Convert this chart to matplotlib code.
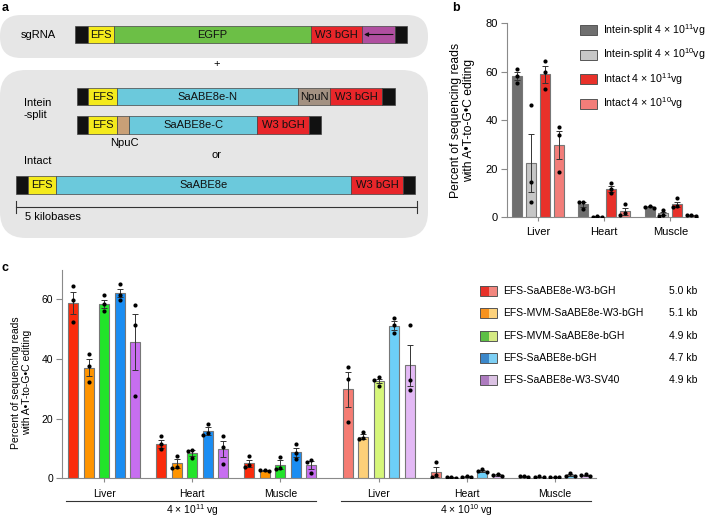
import numpy as np
import matplotlib
matplotlib.use('Agg')
import matplotlib.pyplot as plt
from matplotlib.patches import Rectangle, FancyBboxPatch
from matplotlib.transforms import blended_transform_factory

plt.rcParams['font.family'] = ['Liberation Sans', 'DejaVu Sans']
plt.rcParams['mathtext.fontset'] = 'custom'
plt.rcParams['mathtext.rm'] = 'Liberation Sans'
plt.rcParams['mathtext.it'] = 'Liberation Sans:italic'
plt.rcParams['mathtext.bf'] = 'Liberation Sans:bold'

W, H = 705, 519
FS = 7.5
AX_GRAY = '#8a8a8a'

# ---------------- panel a: vector maps (label, length in kb, colour) ----------------
ITR = '#111111'
EFS_C = '#f4ea1c'
EGFP_C = '#6cbf46'
BGH_C = '#e8262a'
SG_C = '#b04fa0'
CAS_C = '#6bc9dc'
NPUN_C = '#a39182'
NPUC_C = '#c9a077'

sg_start = 0.74
sg_parts = [('', 0.16, ITR), ('EFS', 0.32, EFS_C), ('EGFP', 2.46, EGFP_C),
            ('W3 bGH', 0.64, BGH_C), ('', 0.41, SG_C), ('', 0.14, ITR)]
n_start = 0.76
n_parts = [('', 0.14, ITR), ('EFS', 0.36, EFS_C), ('SaABE8e-N', 2.26, CAS_C),
           ('NpuN', 0.40, NPUN_C), ('W3 bGH', 0.64, BGH_C), ('', 0.16, ITR)]
c_start = 0.76
c_parts = [('', 0.14, ITR), ('EFS', 0.36, EFS_C), ('', 0.15, NPUC_C),
           ('SaABE8e-C', 1.60, CAS_C), ('W3 bGH', 0.64, BGH_C), ('', 0.15, ITR)]
intact_start = 0.0
intact_parts = [('', 0.15, ITR), ('EFS', 0.35, EFS_C), ('SaABE8e', 3.68, CAS_C),
                ('W3 bGH', 0.64, BGH_C), ('', 0.15, ITR)]
scale_kb = 5

# ---------------- panel b ----------------
b_tissues = ['Liver', 'Heart', 'Muscle']
b_labels = ['Intein-split 4 × 10$^{11}$vg', 'Intein-split 4 × 10$^{10}$vg',
            'Intact 4 × 10$^{11}$vg', 'Intact 4 × 10$^{10}$vg']
b_colors = ['#6f6f6f', '#c6c6c6', '#e8312a', '#f27d79']
b_means = [[58.3, 5.2, 4.3],
           [22.3, 0.2, 1.5],
           [59.0, 11.6, 5.3],
           [29.9, 2.4, 0.7]]
b_errs = [[1.7, 1.0, 0.3],
          [12.1, 0.05, 0.7],
          [3.5, 1.3, 1.0],
          [5.8, 1.4, 0.1]]
b_dots = [[[61.3, 58.2, 55.5], [6.3, 6.2, 3.2], [4.7, 4.1, 3.8]],
          [[46.1, 14.6, 6.3], [0.3, 0.2, 0.1], [2.9, 1.0, 0.6]],
          [[64.5, 60.0, 52.7], [14.2, 11.7, 9.8], [7.7, 4.6, 4.0]],
          [[37.3, 33.9, 18.5], [5.4, 1.5, 1.0], [0.9, 0.8, 0.5]]]

# ---------------- panel c ----------------
c_groups = ['Liver', 'Heart', 'Muscle', 'Liver', 'Heart', 'Muscle']
c_doses = ['4 × 10$^{11}$ vg', '4 × 10$^{10}$ vg']
c_constructs = ['EFS-SaABE8e-W3-bGH', 'EFS-MVM-SaABE8e-W3-bGH', 'EFS-MVM-SaABE8e-bGH',
                'EFS-SaABE8e-bGH', 'EFS-SaABE8e-W3-SV40']
c_sizes = ['5.0 kb', '5.1 kb', '4.9 kb', '4.7 kb', '4.9 kb']
c_dark = ['#fa2b0c', '#ff9400', '#22e42a', '#1a8df2', '#c76ef0']
c_light = ['#f57c73', '#fdd079', '#d6f67a', '#6dcff8', '#e3b9f5']
c_leg_dark = ['#e8322a', '#f7921e', '#5cbf45', '#3b87c9', '#ad7bbf']
c_leg_light = ['#f2877f', '#fdd27c', '#d5ea83', '#7dcff4', '#dbc2e3']
c_means = [[58.7, 11.5, 5.0, 29.8, 2.2, 0.7],
           [37.1, 5.0, 2.6, 14.0, 0.3, 0.5],
           [58.5, 8.5, 4.5, 32.6, 0.6, 0.4],
           [62.1, 15.9, 8.8, 51.2, 2.5, 1.1],
           [45.7, 9.8, 4.5, 37.9, 1.1, 1.0]]
c_errs = [[3.6, 1.4, 1.3, 5.8, 1.7, 0.1],
          [2.8, 1.4, 0.3, 0.7, 0.1, 0.1],
          [1.4, 0.9, 1.5, 0.6, 0.1, 0.1],
          [1.3, 1.3, 1.5, 1.4, 0.4, 0.3],
          [9.3, 2.8, 1.4, 6.8, 0.2, 0.2]]
c_dots = [[[64.5, 59.7, 52.4], [14.2, 11.5, 9.7], [7.6, 4.4, 3.8], [37.2, 33.4, 18.8], [5.3, 1.0, 0.3], [0.9, 0.7, 0.6]],
          [[41.6, 37.6, 32.3], [7.6, 3.9, 3.6], [2.9, 2.7, 2.3], [15.5, 13.4, 13.2], [0.5, 0.3, 0.2], [0.7, 0.5, 0.3]],
          [[61.4, 58.3, 56.0], [9.5, 9.3, 6.8], [7.2, 3.4, 3.0], [33.8, 33.0, 31.0], [0.8, 0.6, 0.5], [0.5, 0.4, 0.3]],
          [[65.0, 61.5, 59.9], [18.2, 15.1, 14.5], [11.4, 8.6, 6.5], [53.6, 51.4, 48.7], [3.0, 2.4, 2.0], [1.7, 0.9, 0.8]],
          [[58.2, 51.3, 27.5], [14.2, 10.6, 4.7], [6.3, 5.4, 1.8], [51.4, 32.8, 29.6], [1.4, 1.0, 0.9], [1.4, 1.0, 0.8]]]


def swarm_x(x0, ys, dy, dx):
    placed = []
    xs = []
    for y in ys:
        for k in [0, -1, 1, -2, 2]:
            x = x0 + k * dx
            if all(abs(px - x) > dx * 0.6 or abs(py - y) > dy for px, py in placed):
                break
        placed.append((x, y))
        xs.append(x)
    return xs


def draw_bars(ax, centers, step, width, means, errs, dots, colors, dy, dx):
    n = len(means)
    for i in range(n):
        xs = np.asarray(centers) + (i - (n - 1) / 2) * step
        col = colors[i]
        cols = col if isinstance(col, list) else [col] * len(xs)
        ax.bar(xs, means[i], width, color=cols, edgecolor='#777777', linewidth=0.8, zorder=2)
        ax.errorbar(xs, means[i], yerr=errs[i], fmt='none', ecolor='#333333',
                    elinewidth=0.7, capsize=2.2, capthick=0.7, zorder=3)
        for x, d in zip(xs, dots[i]):
            ax.scatter(swarm_x(x, d, dy, dx), d, s=9, color='black', linewidths=0, zorder=4)


def style_axis(ax, fs):
    for s in ['top', 'right']:
        ax.spines[s].set_visible(False)
    for s in ['left', 'bottom']:
        ax.spines[s].set_color(AX_GRAY)
        ax.spines[s].set_linewidth(0.8)
    ax.tick_params(axis='y', length=4, width=0.8, color=AX_GRAY, labelsize=fs, pad=2.5)
    ax.tick_params(axis='x', length=3, width=0.8, color=AX_GRAY, labelsize=fs, pad=4.5)


def fax(left, top, right, bottom):
    return [left / W, 1 - bottom / H, (right - left) / W, (bottom - top) / H]


fig = plt.figure(figsize=(W / 100, H / 100), dpi=100)

# ---------------- panel b axes ----------------
axb = fig.add_axes(fax(506.7, 23.3, 698, 217))
b_pos = np.arange(len(b_tissues))
draw_bars(axb, b_pos, 0.21, 0.15, b_means, b_errs, b_dots, b_colors, 1.6, 0.07)
axb.set_xlim(-0.473, 2.417)
axb.set_ylim(0, 80)
axb.set_yticks([0, 20, 40, 60, 80])
axb.set_xticks(b_pos)
axb.set_xticklabels(b_tissues)
style_axis(axb, 8)
axb.set_ylabel('Percent of sequencing reads\nwith A•T-to-G•C editing', fontsize=8.7, linespacing=1.1)
axb.yaxis.set_label_coords(-0.166, 0.5)

# ---------------- panel c axes ----------------
axc = fig.add_axes(fax(62.3, 269.5, 596, 478.3))
c_pos = np.concatenate([np.arange(3), np.arange(3) + 3.12])
c_cols = [[c_dark[i]] * 3 + [c_light[i]] * 3 for i in range(len(c_constructs))]
draw_bars(axc, c_pos, 0.175, 0.114, c_means, c_errs, c_dots, c_cols, 1.35, 0.05)
axc.set_xlim(-0.477, 5.588)
axc.set_ylim(0, 70)
axc.set_yticks([0, 20, 40, 60])
axc.set_xticks(c_pos)
axc.set_xticklabels(c_groups)
style_axis(axc, FS)
axc.set_ylabel('Percent of sequencing reads\nwith A•T-to-G•C editing', fontsize=FS, linespacing=1.15)
axc.yaxis.set_label_coords(-0.057, 0.46)
tr = blended_transform_factory(axc.transData, axc.transAxes)
tr_px = blended_transform_factory(axc.transData, fig.transFigure)
for k, dose in enumerate(c_doses):
    g = c_pos[3 * k:3 * k + 3]
    axc.plot([g[0] - 0.43, g[-1] + 0.41], [-0.107, -0.107], color='#333333', lw=0.8,
             transform=tr, clip_on=False)
    axc.text(g[1], 1 - 514.5 / H, dose, transform=tr_px, ha='center', va='baseline', fontsize=FS)

# ---------------- overlay in pixel coords: panel a, legends, letters ----------------
ov = fig.add_axes([0, 0, 1, 1])
ov.set_xlim(0, W)
ov.set_ylim(H, 0)
ov.axis('off')

KB_PX = 80.2
X0 = 16


def kbx(kb):
    return X0 + kb * KB_PX


ov.add_patch(FancyBboxPatch((0, 15), 428, 43, boxstyle='round,pad=0,rounding_size=21',
                            fc='#e6e6e6', ec='none'))
ov.add_patch(FancyBboxPatch((0, 70), 428, 168, boxstyle='round,pad=0,rounding_size=26',
                            fc='#e6e6e6', ec='none'))


def draw_construct(start, parts, yc, h):
    x = kbx(start)
    for label, length, col in parts:
        w = length * KB_PX
        ov.add_patch(Rectangle((x, yc - h / 2), w, h, fc=col, ec='#444444', lw=0.5))
        if label:
            ov.text(x + w / 2, yc, label, ha='center', va='center', fontsize=8, color='#111111')
        x += w
    return x


draw_construct(sg_start, sg_parts, 34.5, 17)
draw_construct(n_start, n_parts, 96.5, 17)
draw_construct(c_start, c_parts, 125, 18)
draw_construct(intact_start, intact_parts, 185, 18)
ov.annotate('', xy=(364, 34.5), xytext=(393, 34.5),
            arrowprops=dict(arrowstyle='-|>', color='#111111', lw=0.8, mutation_scale=6,
                            shrinkA=0, shrinkB=0))

ov.text(38, 34.5, 'sgRNA', ha='center', va='center', fontsize=8)
ov.text(217, 64, '+', ha='center', va='center', fontsize=8)
ov.text(24, 109, 'Intein\n-split', ha='left', va='center', fontsize=8, linespacing=1.15)
ov.text(124, 142.5, 'NpuC', ha='center', va='center', fontsize=8)
ov.text(217, 154.5, 'or', ha='center', va='center', fontsize=8)
ov.text(24, 161, 'Intact', ha='left', va='center', fontsize=8)
ov.plot([kbx(0), kbx(scale_kb)], [207, 207], color='#333333', lw=0.8)
for xk in [0, scale_kb]:
    ov.plot([kbx(xk), kbx(xk)], [200.5, 213], color='#333333', lw=0.8)
ov.text(25, 217, '5 kilobases', ha='left', va='center', fontsize=8)

# panel b legend
for i, (lab, col) in enumerate(zip(b_labels, b_colors)):
    y = 30 + i * 24.5
    ov.add_patch(Rectangle((580, y - 5), 17, 10, fc=col, ec='#555555', lw=0.7))
    ov.text(603, y, lab, ha='left', va='center', fontsize=7.7)

# panel c legend
for i, lab in enumerate(c_constructs):
    y = 291 + i * 22.3
    ov.add_patch(Rectangle((480, y - 5), 8.5, 10, fc=c_leg_dark[i], ec='none'))
    ov.add_patch(Rectangle((488.5, y - 5), 8.5, 10, fc=c_leg_light[i], ec='none'))
    ov.add_patch(Rectangle((480, y - 5), 17, 10, fc='none', ec='#555555', lw=0.7))
    ov.text(503, y, lab, ha='left', va='center', fontsize=FS)
    ov.text(669, y, c_sizes[i], ha='left', va='center', fontsize=FS)

# panel letters
ov.text(2, 8, 'a', ha='left', va='center', fontsize=9, fontweight='bold')
ov.text(452, 8, 'b', ha='left', va='center', fontsize=9, fontweight='bold')
ov.text(2, 268, 'c', ha='left', va='center', fontsize=9, fontweight='bold')

fig.savefig('out.png', dpi=100)
